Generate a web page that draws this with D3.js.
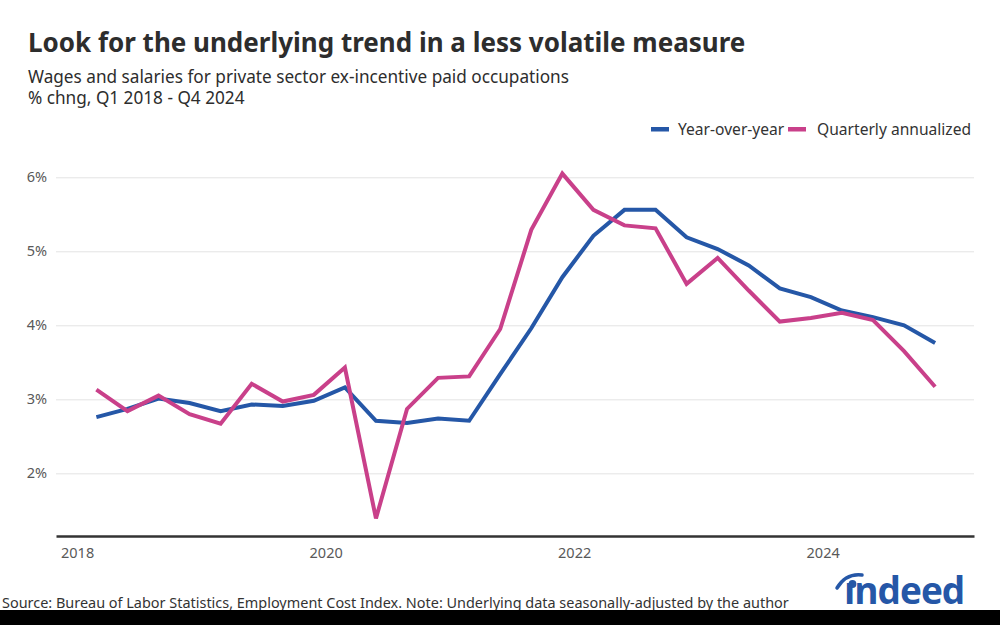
<!DOCTYPE html>
<html>
<head>
<meta charset="utf-8">
<script src="https://cdn.jsdelivr.net/npm/d3@7"></script>
<style>
  html, body { margin: 0; padding: 0; background: #fff; }
  svg { display: block; font-family: "Noto Sans", "Open Sans", sans-serif; }
</style>
</head>
<body>
<svg id="chart" width="1000" height="625"></svg>
<script>
// ---- Data ----
const quarters = [
  "2018Q1","2018Q2","2018Q3","2018Q4",
  "2019Q1","2019Q2","2019Q3","2019Q4",
  "2020Q1","2020Q2","2020Q3","2020Q4",
  "2021Q1","2021Q2","2021Q3","2021Q4",
  "2022Q1","2022Q2","2022Q3","2022Q4",
  "2023Q1","2023Q2","2023Q3","2023Q4",
  "2024Q1","2024Q2","2024Q3","2024Q4"
];
const yoyValues = [
  2.76, 2.87, 3.01, 2.95,
  2.84, 2.93, 2.91, 2.98,
  3.16, 2.71, 2.68, 2.74,
  2.71, 3.34, 3.96, 4.65,
  5.21, 5.56, 5.56, 5.19,
  5.03, 4.81, 4.50, 4.38,
  4.20, 4.11, 4.00, 3.76
];
const qaValues = [
  3.13, 2.84, 3.05, 2.80,
  2.67, 3.21, 2.97, 3.06,
  3.43, 1.39, 2.87, 3.29,
  3.31, 3.95, 5.29, 6.05,
  5.56, 5.35, 5.31, 4.56,
  4.91, 4.47, 4.05, 4.10,
  4.17, 4.07, 3.65, 3.17
];
const seriesNames = ["Year-over-year", "Quarterly annualized"];
const seriesColors = ["#2557a7", "#c9408a"];
const yTicks = [2, 3, 4, 5, 6];
const xTicks = [2018, 2020, 2022, 2024];

(function () {
// ---- Setup ----
const svg = d3.select("#chart");
const pLeft = 56, pRight = 974, pTop = 162.5, pBottom = 536;

function qToYear(q) {
  const yr = +q.slice(0, 4), qn = +q.slice(5);
  return yr + (qn - 1) * 0.25 + 0.155;
}

const x = d3.scaleLinear().domain([2017.83, 2025.218]).range([pLeft, pRight]);
const y = d3.scaleLinear().domain([1.153, 6.2]).range([pBottom, pTop]);

// Title / subtitle
svg.append("text").attr("x", 28).attr("y", 52)
  .attr("font-size", 26).attr("font-weight", 700).attr("fill", "#2d2d2d")
  .text("Look for the underlying trend in a less volatile measure");
svg.append("text").attr("x", 28).attr("y", 83)
  .attr("font-size", 17.2).attr("fill", "#2d2d2d")
  .text("Wages and salaries for private sector ex-incentive paid occupations");
svg.append("text").attr("x", 28).attr("y", 104)
  .attr("font-size", 17.2).attr("fill", "#2d2d2d")
  .text("% chng, Q1 2018 - Q4 2024");

// Legend
const legend = [
  { name: seriesNames[0], color: seriesColors[0], sx: 651, tx: 678 },
  { name: seriesNames[1], color: seriesColors[1], sx: 788, tx: 817 }
];
legend.forEach(l => {
  svg.append("rect").attr("x", l.sx).attr("y", 127).attr("width", 18).attr("height", 4.5)
    .attr("fill", l.color);
  svg.append("text").attr("x", l.tx).attr("y", 135)
    .attr("font-size", 15.6).attr("fill", "#333").text(l.name);
});

// Gridlines
const yAxis = d3.axisLeft(y).tickValues(yTicks).tickSize(-(pRight - pLeft))
  .tickFormat(d => d + "%");
const gy = svg.append("g").attr("transform", `translate(${pLeft},0)`).call(yAxis);
gy.select(".domain").remove();
gy.selectAll(".tick line").attr("stroke", "#e3e3e3").attr("stroke-width", 1);
gy.selectAll(".tick text").attr("x", -9).attr("font-size", 14.5).attr("fill", "#595959")
  .attr("font-family", "'Noto Sans', sans-serif");

// X axis
const xAxis = d3.axisBottom(x).tickValues(xTicks).tickSize(0).tickFormat(d3.format("d"));
const gx = svg.append("g").attr("transform", `translate(0,${pBottom})`).call(xAxis);
gx.select(".domain").attr("stroke", "#333").attr("stroke-width", 2.5);
gx.selectAll(".tick text").attr("dy", 0).attr("y", 22).attr("font-size", 14.5).attr("fill", "#595959")
  .attr("font-family", "'Noto Sans', sans-serif");

// Lines
const line = d3.line().x((d, i) => x(qToYear(quarters[i]))).y(d => y(d));
[yoyValues, qaValues].forEach((vals, k) => {
  svg.append("path").datum(vals)
    .attr("d", line)
    .attr("fill", "none")
    .attr("stroke", seriesColors[k])
    .attr("stroke-width", 4)
    .attr("stroke-linejoin", "miter");
});

// Source
svg.append("text").attr("x", 2).attr("y", 608)
  .attr("font-size", 14.45).attr("fill", "#333")
  .text("Source: Bureau of Labor Statistics, Employment Cost Index. Note: Underlying data seasonally-adjusted by the author");

// Indeed logo
svg.append("text").attr("x", 844).attr("y", 604)
  .attr("font-size", 37).attr("font-weight", 700).attr("fill", "#2557a7")
  .attr("letter-spacing", -1)
  .attr("font-family", "'Open Sans', 'Noto Sans', sans-serif")
  .text("ındeed");
svg.append("path")
  .attr("d", "M837,588 Q846,573 862,575")
  .attr("fill", "none").attr("stroke", "#2557a7").attr("stroke-width", 3.5).attr("stroke-linecap", "round");
svg.append("circle").attr("cx", 852.5).attr("cy", 584).attr("r", 3.9).attr("fill", "#2557a7");

// Bottom bar
svg.append("rect").attr("x", 0).attr("y", 610).attr("width", 1000).attr("height", 15).attr("fill", "#000");
})();
</script>
</body>
</html>
